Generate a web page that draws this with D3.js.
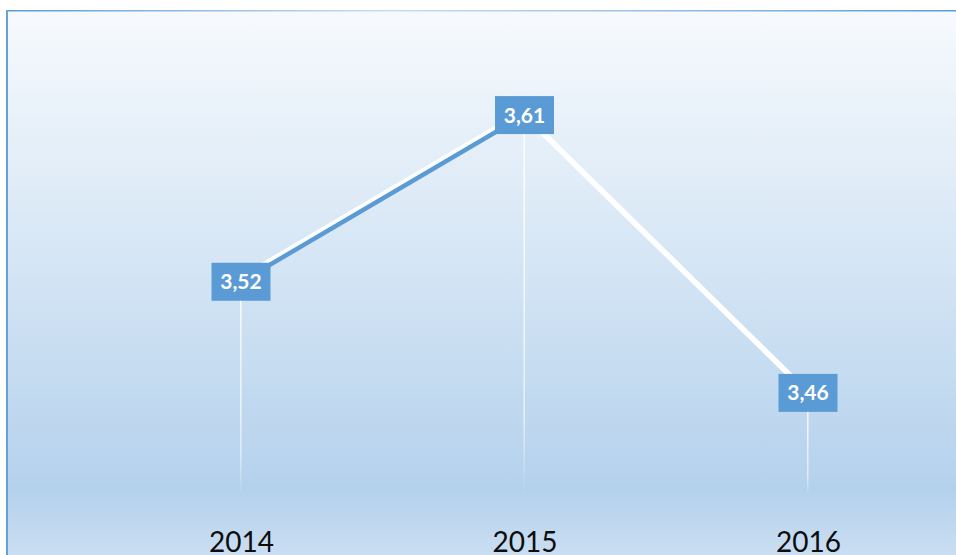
<!DOCTYPE html>
<html>
<head>
<meta charset="utf-8">
<script src="https://cdn.jsdelivr.net/npm/d3@7.9.0/dist/d3.min.js"></script>
<style>
  html, body { margin: 0; padding: 0; background: #fff; }
  svg { display: block; }
</style>
</head>
<body>
<svg id="chart" width="956" height="555"></svg>
<script>
// data
const years = ['2014', '2015', '2016'];
const values = [3.52, 3.61, 3.46];
const labels = ['3,52', '3,61', '3,46'];

const width = 956, height = 555;
const svg = d3.select('#chart');

const x = d3.scalePoint().domain(years).range([241, 808]);
const y = d3.scaleLinear().domain([3.4, 3.65]).range([504, 41]);

const pts = years.map((yr, i) => ({ year: yr, value: values[i], label: labels[i] }));

// === gradients ===
const defs = svg.append('defs');
const bg = defs.append('linearGradient').attr('id', 'bg')
  .attr('x1', 0).attr('y1', 0).attr('x2', 0).attr('y2', 1);
bg.append('stop').attr('offset', '0%').attr('stop-color', '#f7fafd');
bg.append('stop').attr('offset', '45%').attr('stop-color', '#d6e6f5');
bg.append('stop').attr('offset', '88%').attr('stop-color', '#b4d1ec');
bg.append('stop').attr('offset', '100%').attr('stop-color', '#cadef2');

const topEdge = defs.append('linearGradient').attr('id', 'topEdge');
topEdge.append('stop').attr('offset', '0%').attr('stop-color', '#5b9bd5');
topEdge.append('stop').attr('offset', '40%').attr('stop-color', '#c9def2');
topEdge.append('stop').attr('offset', '100%').attr('stop-color', '#5b9bd5');

const drop = defs.append('linearGradient').attr('id', 'drop')
  .attr('x1', 0).attr('y1', 0).attr('x2', 0).attr('y2', 1);
drop.append('stop').attr('offset', '0%').attr('stop-color', '#fff').attr('stop-opacity', 0.9);
drop.append('stop').attr('offset', '80%').attr('stop-color', '#fff').attr('stop-opacity', 0.6);
drop.append('stop').attr('offset', '100%').attr('stop-color', '#fff').attr('stop-opacity', 0);

// === background + frame ===
svg.append('rect')
  .attr('x', 7).attr('y', 10).attr('width', width).attr('height', height - 10)
  .attr('fill', 'url(#bg)');
svg.append('rect')
  .attr('x', 6).attr('y', 10).attr('width', width).attr('height', 1.5)
  .attr('fill', 'url(#topEdge)');
svg.append('rect')
  .attr('x', 6).attr('y', 10).attr('width', 2).attr('height', height - 10)
  .attr('fill', '#64a2d9');

// === drop lines ===
svg.selectAll('.drop')
  .data(pts)
  .enter()
  .append('rect')
  .attr('class', 'drop')
  .attr('x', d => x(d.year) - 1)
  .attr('y', d => y(d.value))
  .attr('width', 1.5)
  .attr('height', d => 495 - y(d.value))
  .attr('fill', 'url(#drop)');

// === line segments ===
const segs = d3.pairs(pts);
// white glow / shadow
svg.selectAll('.glow')
  .data(segs)
  .enter()
  .append('line')
  .attr('class', 'glow')
  .attr('x1', d => x(d[0].year)).attr('y1', d => y(d[0].value) - (d[1].value > d[0].value ? 4 : 0))
  .attr('x2', d => x(d[1].year)).attr('y2', d => y(d[1].value) - (d[1].value > d[0].value ? 4 : 0))
  .attr('stroke', '#fff')
  .attr('stroke-width', 5);

svg.selectAll('.seg')
  .data(segs)
  .enter()
  .append('line')
  .attr('class', 'seg')
  .attr('x1', d => x(d[0].year)).attr('y1', d => y(d[0].value))
  .attr('x2', d => x(d[1].year)).attr('y2', d => y(d[1].value))
  .attr('stroke', (d, i) => i === 0 ? '#5b9bd5' : '#fff')
  .attr('stroke-width', (d, i) => i === 0 ? 4.5 : 5.5);

// === data labels ===
const lab = svg.selectAll('.lab')
  .data(pts)
  .enter()
  .append('g')
  .attr('class', 'lab')
  .attr('transform', d => `translate(${x(d.year)},${y(d.value)})`);
lab.append('rect')
  .attr('x', -29.5).attr('y', -19).attr('width', 59).attr('height', 38)
  .attr('fill', '#5b9bd5');
lab.append('text')
  .attr('text-anchor', 'middle')
  .attr('dy', '0.36em')
  .attr('fill', '#fff')
  .attr('font-family', 'Lato, "Open Sans", sans-serif')
  .attr('font-weight', 'bold')
  .attr('font-size', 21)
  .text(d => d.label);

// === x axis ===
const axis = svg.append('g')
  .attr('transform', 'translate(0,510)')
  .call(d3.axisBottom(x).tickSize(0).tickPadding(0));
axis.select('.domain').remove();
axis.selectAll('text')
  .attr('dy', 42)
  .attr('fill', '#0d0d0d')
  .attr('font-family', 'Lato, "Open Sans", sans-serif')
  .attr('font-size', 28);
</script>
</body>
</html>
